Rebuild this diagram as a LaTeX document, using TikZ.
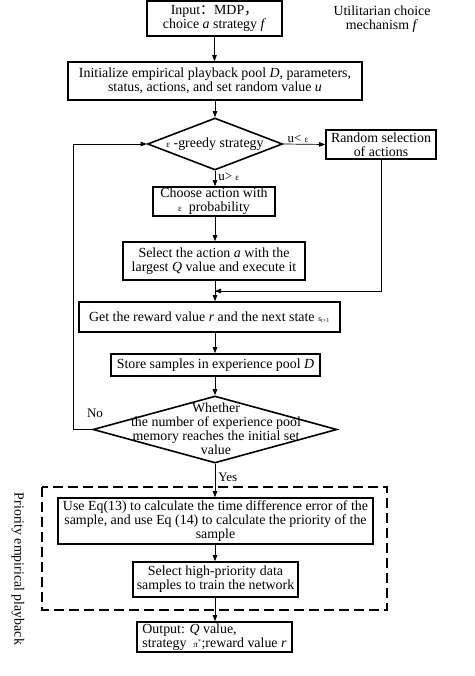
\documentclass[tikz,border=0pt]{standalone}
\usepackage{fontspec}
\setmainfont{Liberation Serif}
\newfontfamily\cjk{Noto Sans CJK SC}
\usetikzlibrary{shapes.geometric,arrows.meta}
\begin{document}
\begin{tikzpicture}[x=1pt,y=-1pt,
  font=\fontsize{13.9}{14}\selectfont,
  box/.style={draw,line width=1.6pt,rectangle,inner sep=0pt,align=center},
  dia/.style={draw,line width=1.6pt,diamond,inner sep=0pt},
  conn/.style={line width=0.7pt,-{Triangle[length=6pt,width=4.5pt]}},
  plain/.style={line width=0.7pt},
  lab/.style={inner sep=1pt,font=\fontsize{13}{13}\selectfont}]
\useasboundingbox (0,0) rectangle (474,676);
% nodes
\node[box,minimum width=135,minimum height=35] (inp) at (214.5,18.5) {Input{\cjk ：}MDP{\cjk ，}\\choice \textit{a} strategy \textit{f}};
\node[align=center,inner sep=0pt] (util) at (382,19) {Utilitarian choice\\mechanism \textit{f}};
\node[box,minimum width=294,minimum height=38] (init) at (215,81) {Initialize empirical playback pool \textit{D}, parameters,\\status, actions, and set random value \textit{u}};
\node[dia,minimum width=135,minimum height=52] (d1) at (215,144) {};
\node[inner sep=0pt] (d1t) at (215,144) {{\fontsize{9}{9}\selectfont ε} -greedy strategy};
\node[box,minimum width=110,minimum height=29] (rnd) at (381,144.5) {Random selection\\of actions};
\node[box,minimum width=122,minimum height=29] (cho) at (214,201.5) {Choose action with\\{\fontsize{9}{9}\selectfont ε}\ \ probability};
\node[box,minimum width=182,minimum height=38] (sel) at (214,261) {Select the action \textit{a} with the\\largest \textit{Q} value and execute it};
\coordinate (j) at (215,291);
\node[box,minimum width=261,minimum height=30] (get) at (209.5,317) {Get the reward value \textit{r} and the next state {\fontsize{8}{8}\selectfont\textit{s}\textsubscript{\textit{t}+1}}};
\node[box,minimum width=209,minimum height=22] (sto) at (215.5,365) {Store samples in experience pool \textit{D}};
\node[dia,minimum width=244,minimum height=67] (d2) at (215,429.5) {};
\node[align=center,inner sep=0pt] (d2t) at (216,429) {Whether\\the number of experience pool\\memory reaches the initial set\\value};
\draw[line width=1.6pt,dash pattern=on 10pt off 5pt] (42,487) rectangle (387,610);
\node[box,minimum width=315,minimum height=46] (use) at (215.5,521) {Use Eq(13) to calculate the time difference error of the\\sample, and use Eq (14) to calculate the priority of the\\sample};
\node[box,minimum width=165,minimum height=35] (hig) at (215.5,579.5) {Select high-priority data\\samples to train the network};
\node[box,minimum width=155,minimum height=30,align=left] (out) at (214.5,637) {Output: \textit{Q} value,\\strategy \ {\fontsize{9}{9}\selectfont\textit{π}\textsuperscript{*}};reward value \textit{r}};
\node[rotate=-90,inner sep=0pt] (pri) at (18,569) {Priority empirical playback};
% connectors
\draw[conn] (inp.south) -- (inp.south |- init.north);
\draw[conn] (init.south) -- (d1.north);
\draw[conn] (d1.east) -- node[lab,above,pos=0.35]{u< {\fontsize{9}{9}\selectfont ε}} (rnd.west);
\draw[conn] (d1.south) -- node[lab,right=2pt,pos=0.4]{u> {\fontsize{9}{9}\selectfont ε}} (d1.south |- cho.north);
\draw[conn] (d1.south |- cho.south) -- (d1.south |- sel.north);
\draw[conn] (d1.south |- sel.south) -- (d1.south |- get.north);
\draw[plain] (rnd.south) |- (j);
\draw[conn] (rnd.south |- j) -- (j);
\draw[conn] (d1.south |- get.south) -- (d1.south |- sto.north);
\draw[conn] (d1.south |- sto.south) -- (d2.north);
\draw[conn] (d2.west) -- (73,429.5) |- (d1.west);
\node[lab] (no) at (95,413) {No};
\draw[conn] (d2.south) -- node[lab,right=2pt,pos=0.4]{Yes} (d2.south |- use.north);
\draw[conn] (d2.south |- use.south) -- (d2.south |- hig.north);
\draw[conn] (d2.south |- hig.south) -- (d2.south |- out.north);
\end{tikzpicture}
\end{document}
